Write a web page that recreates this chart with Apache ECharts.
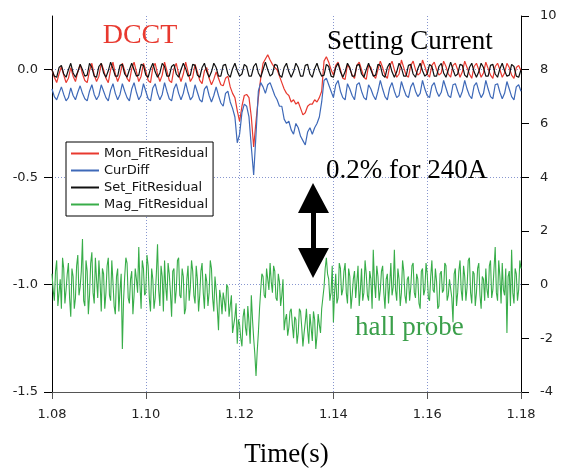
<!DOCTYPE html>
<html>
<head>
<meta charset="utf-8">
<script src="https://cdn.jsdelivr.net/npm/echarts@6/dist/echarts.min.js"></script>
<style>html,body{margin:0;padding:0;background:#fff}#c{width:562px;height:468px}</style>
</head>
<body>
<div id="c"></div>
<script>
// sampling: t = 1.08 + i*0.0005 (201 samples); hall probe also has half-step samples
const t0 = 1.08, dt = 0.0005;
const seriesNames = ['Mon_FitResidual', 'CurDiff', 'Set_FitResidual', 'Mag_FitResidual'];
const xTicks = [1.08, 1.10, 1.12, 1.14, 1.16, 1.18];
const leftTicks = [-1.5, -1.0, -0.5, 0.0];
const rightTicks = [-4, -2, 0, 2, 4, 6, 8, 10];

const monFit = [
 0.0,-0.035,-0.06,-0.02,0.015,-0.025,-0.06,-0.04,0.01,-0.03,
 -0.055,-0.01,0.025,-0.02,-0.05,-0.06,-0.005,0.03,-0.025,-0.055,
 -0.03,0.03,0.0,-0.04,-0.06,0.0,0.035,-0.02,-0.055,-0.025,
 0.03,-0.005,-0.04,-0.055,0.005,0.035,-0.01,-0.055,-0.03,0.03,
 -0.005,-0.05,-0.06,0.01,0.03,-0.02,-0.055,-0.025,0.035,-0.005,
 -0.05,-0.06,0.005,0.03,-0.02,-0.055,-0.02,0.035,-0.01,-0.055,
 -0.035,0.025,-0.01,-0.05,-0.065,-0.005,0.01,-0.04,-0.07,-0.045,
 -0.01,-0.04,-0.07,-0.075,-0.04,-0.03,-0.08,-0.11,-0.13,-0.19,
 -0.24,-0.17,-0.12,-0.115,-0.13,-0.22,-0.36,-0.24,-0.13,-0.04,
 0.03,0.05,0.07,0.045,0.025,0.01,0.0,-0.03,-0.06,-0.09,
 -0.11,-0.12,-0.15,-0.14,-0.16,-0.15,-0.18,-0.21,-0.2,-0.17,
 -0.16,-0.16,-0.14,-0.15,-0.13,-0.1,0.04,0.06,0.035,0.0,
 -0.025,0.02,0.035,0.0,-0.04,-0.045,0.025,0.005,-0.025,-0.04,
 0.02,0.035,0.0,-0.035,-0.045,0.02,0.01,-0.025,-0.04,0.0,
 0.04,0.01,-0.025,-0.04,0.015,0.04,0.0,-0.035,-0.02,0.045,
 0.01,-0.025,-0.035,0.02,0.04,0.0,-0.025,-0.015,0.045,0.015,
 -0.02,-0.035,0.02,0.035,0.0,-0.025,-0.015,0.04,0.015,-0.02,
 -0.035,0.02,0.03,0.0,-0.035,-0.01,0.04,0.01,-0.02,-0.04,
 0.015,0.03,0.0,-0.035,-0.015,0.035,0.005,-0.025,-0.04,0.015,
 0.03,0.0,-0.035,-0.015,0.03,0.01,-0.025,-0.04,0.01,0.02,
 -0.005
];

const curDiff = [
 -0.09,-0.125,-0.14,-0.11,-0.08,-0.115,-0.145,-0.13,-0.085,-0.12,
 -0.14,-0.105,-0.075,-0.11,-0.135,-0.145,-0.1,-0.07,-0.115,-0.14,
 -0.12,-0.07,-0.1,-0.13,-0.145,-0.095,-0.065,-0.11,-0.14,-0.115,
 -0.065,-0.1,-0.13,-0.145,-0.09,-0.06,-0.105,-0.14,-0.12,-0.065,
 -0.1,-0.135,-0.145,-0.085,-0.065,-0.11,-0.14,-0.115,-0.06,-0.1,
 -0.135,-0.145,-0.09,-0.065,-0.11,-0.14,-0.11,-0.06,-0.105,-0.14,
 -0.125,-0.07,-0.105,-0.14,-0.15,-0.09,-0.075,-0.12,-0.15,-0.12,
 -0.08,-0.12,-0.155,-0.17,-0.11,-0.1,-0.15,-0.18,-0.22,-0.34,
 -0.3,-0.2,-0.16,-0.17,-0.22,-0.36,-0.49,-0.3,-0.1,-0.06,
 -0.08,-0.11,-0.07,-0.06,-0.09,-0.12,-0.14,-0.17,-0.17,-0.23,
 -0.25,-0.24,-0.28,-0.3,-0.25,-0.27,-0.31,-0.33,-0.35,-0.29,
 -0.27,-0.3,-0.27,-0.25,-0.22,-0.15,-0.05,-0.04,-0.07,-0.1,
 -0.13,-0.07,-0.05,-0.1,-0.13,-0.14,-0.065,-0.09,-0.12,-0.14,
 -0.07,-0.06,-0.1,-0.13,-0.14,-0.07,-0.09,-0.12,-0.14,-0.1,
 -0.05,-0.09,-0.125,-0.14,-0.085,-0.06,-0.1,-0.13,-0.12,-0.055,
 -0.09,-0.12,-0.13,-0.08,-0.06,-0.1,-0.125,-0.11,-0.05,-0.09,
 -0.12,-0.13,-0.075,-0.06,-0.1,-0.125,-0.105,-0.05,-0.085,-0.12,
 -0.13,-0.07,-0.065,-0.1,-0.13,-0.1,-0.05,-0.09,-0.12,-0.135,
 -0.075,-0.06,-0.1,-0.13,-0.11,-0.05,-0.09,-0.125,-0.135,-0.07,
 -0.065,-0.105,-0.135,-0.11,-0.055,-0.09,-0.125,-0.14,-0.08,-0.07,
 -0.1
];

const setFit = [
 0.0,-0.03,-0.035,0.01,0.02,-0.02,-0.035,0.0,0.03,-0.015,
 -0.035,-0.01,0.025,0.0,-0.03,-0.025,0.03,0.01,-0.03,-0.035,
 0.015,0.03,-0.015,-0.035,-0.005,0.035,0.005,-0.03,-0.03,0.02,
 0.025,-0.02,-0.035,0.0,0.03,0.0,-0.03,-0.025,0.025,0.02,
 -0.025,-0.035,0.005,0.03,-0.01,-0.035,-0.015,0.03,0.015,-0.03,
 -0.03,0.015,0.025,-0.02,-0.035,0.0,0.03,0.005,-0.03,-0.025,
 0.025,0.02,-0.025,-0.035,0.01,0.03,-0.01,-0.035,-0.01,0.03,
 0.01,-0.03,-0.03,0.02,0.025,-0.02,-0.035,0.005,0.03,-0.005,
 -0.03,-0.02,0.025,0.015,-0.03,-0.03,0.015,0.03,-0.015,-0.035,
 0.0,0.035,0.0,-0.03,-0.02,0.025,0.02,-0.025,-0.035,0.01,
 0.03,-0.01,-0.035,-0.01,0.03,0.01,-0.03,-0.03,0.02,0.025,
 -0.02,-0.035,0.005,0.03,-0.005,-0.03,-0.025,0.025,0.015,-0.03,
 -0.035,0.01,0.03,-0.01,-0.035,-0.01,0.03,0.01,-0.03,-0.03,
 0.02,0.025,-0.02,-0.035,0.0,0.03,0.0,-0.03,-0.025,0.025,
 0.02,-0.025,-0.035,0.01,0.03,-0.01,-0.035,-0.01,0.03,0.01,
 -0.03,-0.03,0.02,0.025,-0.02,-0.035,0.005,0.03,-0.005,-0.03,
 -0.02,0.025,0.015,-0.03,-0.03,0.015,0.03,-0.015,-0.035,0.0,
 0.035,0.0,-0.03,-0.02,0.025,0.02,-0.025,-0.035,0.01,0.03,
 -0.01,-0.035,-0.01,0.03,0.01,-0.03,-0.03,0.02,0.025,-0.02,
 -0.035,0.005,0.03,-0.005,-0.03,-0.025,0.025,0.015,-0.03,-0.035,
 0.0
];

// hall probe, samples at t0 + i*dt
const magFit = [
 0.4,-0.6,0.9,-0.3,-0.9,0.6,-0.2,0.8,-1.2,0.3,
 -0.5,1.1,-0.1,1.7,-0.8,0.5,-0.4,1.2,-0.7,0.2,
 0.9,-1.0,0.4,-0.3,1.0,-0.6,0.1,-1.1,0.6,-0.2,
 -2.4,0.3,0.8,-0.7,0.5,-0.4,0.2,1.4,-0.9,0.6,
 -0.3,0.7,-1.0,0.2,-0.5,1.5,-0.8,0.3,0.9,-0.6,
 0.4,-1.2,0.6,-0.2,1.0,-0.5,0.3,-0.9,0.7,-0.1,
 0.5,-0.7,0.2,-0.4,0.8,-0.9,0.1,-0.3,0.6,-1.0,
 -0.2,-1.7,-0.5,-0.3,-1.0,-0.1,-0.8,-1.8,-1.2,-2.2,
 -1.5,-2.3,-0.9,-1.9,-1.4,-0.4,-2.0,-3.4,-1.8,-0.2,
 0.3,-0.5,0.2,0.8,-0.3,0.5,-0.6,0.1,-0.4,-1.7,
 -1.1,-1.6,-0.9,-2.0,-1.3,-1.8,-1.0,-2.3,-1.4,-1.7,
 -1.1,-2.1,-1.3,-1.9,-1.5,-0.9,-0.1,1.0,0.2,-0.3,
 -1.4,0.4,-0.5,0.6,-0.2,0.8,-0.7,0.3,-0.4,0.5,
 0.1,-0.8,0.6,-0.3,0.4,-0.6,0.2,1.3,-0.5,0.3,
 -0.2,0.7,-0.9,0.4,0.0,-0.4,1.3,-0.6,0.2,-0.3,
 0.5,-0.7,0.3,-0.1,0.8,-0.5,0.2,-0.9,0.6,-0.2,
 0.4,-0.6,0.9,-0.3,0.1,-0.8,0.5,-0.2,0.7,-0.4,
 0.2,-1.4,0.6,-0.3,0.9,-0.6,0.3,-0.1,1.0,-0.7,
 0.4,-0.3,0.8,-0.9,0.2,0.6,-0.5,0.9,-0.2,1.4,
 -0.6,0.3,0.8,-0.4,-1.8,0.5,1.3,-0.7,0.4,-0.2,
 0.6
];
// hall probe, samples at t0 + (i+0.5)*dt
const magFitMid = [
 -0.2,0.5,-0.8,0.2,1.0,-0.7,0.4,-0.5,0.6,-0.9,
 0.7,-0.4,0.5,-0.6,0.9,-1.1,0.8,-0.3,1.0,-0.5,
 0.1,0.6,-0.9,0.7,-0.4,0.9,-0.8,0.3,-1.0,0.4,
 -0.6,1.0,-0.5,0.2,-1.1,0.6,-0.3,0.0,0.9,-0.4,
 1.1,-0.5,0.6,-0.9,0.4,-0.2,0.7,-1.0,-0.1,0.8,
 -0.3,0.5,-0.7,0.9,-0.4,0.6,-1.1,0.2,-0.6,0.9,
 -0.4,0.7,-1.0,0.5,-0.3,0.4,-0.8,0.9,-0.5,0.3,
 -0.9,-0.2,-1.1,-0.6,0.0,-1.2,-0.4,-1.5,-0.7,-1.3,
 -2.0,-1.2,-1.6,-0.8,-2.2,-1.3,-2.6,-2.5,-0.9,0.4,
 -0.4,0.6,-0.2,0.1,0.7,-0.5,0.4,-0.8,0.2,-1.3,
 -1.9,-1.0,-1.5,-1.2,-2.2,-0.9,-1.6,-1.8,-0.9,-2.2,
 -1.6,-1.0,-2.4,-1.1,-1.8,-0.5,0.6,0.4,-0.6,0.7,
 -0.3,-0.7,0.8,-0.4,0.5,-0.3,0.6,-0.9,0.2,-0.5,
 0.7,-0.2,-0.6,0.9,-0.4,0.5,-0.9,0.1,0.7,-0.6,
 0.5,-0.3,0.2,-0.7,0.8,-0.1,-0.2,0.6,-0.8,0.9,
 -0.4,0.2,-0.6,0.7,-0.3,0.4,-0.7,0.5,-0.4,0.8,
 -0.5,0.3,-0.2,0.6,-0.9,0.4,-0.3,0.8,-0.6,0.2,
 -0.5,0.4,-0.8,0.5,-0.2,0.7,-0.6,0.9,-0.3,0.5,
 -0.8,0.6,-0.4,0.3,-0.6,-0.2,0.7,-0.5,0.6,-0.3,
 0.9,-0.7,-0.2,0.6,0.3,-0.8,-0.3,0.6,-0.6,0.9
];

const colors = ['#e8392f', '#3e69b8', '#111111', '#38ad49'];
const times = curDiff.map((_, i) => +(t0 + i * dt).toFixed(5));
const pair = arr => arr.map((v, i) => [times[i], v]);
const magPairs = [];
magFit.forEach((v, i) => {
  magPairs.push([times[i], v]);
  if (i < magFitMid.length) magPairs.push([+(t0 + (i + 0.5) * dt).toFixed(5), magFitMid[i]]);
});

const chart = echarts.init(document.getElementById('c'), null, {renderer: 'canvas'});
const gridDot = {type: [1, 2], color: '#8796cf', width: 1};
const tickFont = {fontFamily: 'DejaVu Sans', fontSize: 13, color: '#222'};
const serif = '"Liberation Serif", "Times New Roman", serif';

chart.setOption({
  animation: false,
  backgroundColor: '#fff',
  grid: {left: 52, right: 41, top: 16, bottom: 76, containLabel: false, outerBoundsMode: 'none'},
  legend: {
    data: seriesNames,
    orient: 'vertical', left: 66, top: 142,
    padding: [5, 5, 5, 5],
    icon: 'rect', itemWidth: 28, itemHeight: 2, itemGap: 4,
    backgroundColor: '#fff', borderColor: '#000', borderWidth: 1, borderRadius: 0,
    textStyle: {fontFamily: 'DejaVu Sans', fontSize: 13, color: '#111', lineHeight: 13},
    selectedMode: false
  },
  xAxis: {
    type: 'value', min: xTicks[0], max: xTicks[xTicks.length - 1], interval: 0.02,
    name: 'Time(s)', nameLocation: 'middle', nameGap: 49,
    nameTextStyle: {fontFamily: serif, fontSize: 27, color: '#000'},
    axisLine: {show: true, onZero: false, lineStyle: {color: '#555', width: 1}},
    axisTick: {show: true, length: 7, lineStyle: {color: '#555'}},
    axisLabel: Object.assign({margin: 16, formatter: v => v.toFixed(2)}, tickFont),
    splitLine: {show: true, showMinLine: false, showMaxLine: false, lineStyle: gridDot}
  },
  yAxis: [
    {
      type: 'value', position: 'left', min: leftTicks[0], max: 0.25, interval: 0.5,
      axisLine: {show: true, onZero: false, lineStyle: {color: '#000', width: 1}},
      axisTick: {show: true, length: 8, lineStyle: {color: '#000'}, customValues: leftTicks},
      axisLabel: Object.assign({margin: 14, customValues: leftTicks,
        formatter: v => (Math.abs(v) < 1e-9 ? 0 : v).toFixed(1)}, tickFont),
      splitLine: {show: true, showMinLine: false, showMaxLine: true, lineStyle: gridDot}
    },
    {
      type: 'value', position: 'right', min: rightTicks[0], max: rightTicks[rightTicks.length - 1], interval: 2,
      axisLine: {show: true, onZero: false, lineStyle: {color: '#000', width: 1}},
      axisTick: {show: true, length: 8, lineStyle: {color: '#000'}},
      axisLabel: Object.assign({margin: 19}, tickFont),
      splitLine: {show: false}
    }
  ],
  series: [
    {name: seriesNames[0], type: 'line', yAxisIndex: 0, data: pair(monFit), symbol: 'none',
     lineStyle: {color: colors[0], width: 1.2}, itemStyle: {color: colors[0]}, z: 2},
    {name: seriesNames[1], type: 'line', yAxisIndex: 0, data: pair(curDiff), symbol: 'none',
     lineStyle: {color: colors[1], width: 1.2}, itemStyle: {color: colors[1]}, z: 2},
    {name: seriesNames[2], type: 'line', yAxisIndex: 0, data: pair(setFit), symbol: 'none',
     lineStyle: {color: colors[2], width: 1.2}, itemStyle: {color: colors[2]}, z: 2},
    {name: seriesNames[3], type: 'line', yAxisIndex: 1, data: magPairs, symbol: 'none',
     lineStyle: {color: colors[3], width: 1.1}, itemStyle: {color: colors[3]}, z: 2}
  ],
  graphic: [
    {type: 'text', x: 140, y: 36, z: 10, style: {text: 'DCCT', font: '28px ' + serif, fill: '#e8392f', align: 'center', verticalAlign: 'middle'}},
    {type: 'text', x: 327, y: 42, z: 10, style: {text: 'Setting Current', font: '27px ' + serif, fill: '#000', align: 'left', verticalAlign: 'middle'}},
    {type: 'text', x: 326, y: 171, z: 10, style: {text: '0.2% for 240A', font: '27px ' + serif, fill: '#000', align: 'left', verticalAlign: 'middle'}},
    {type: 'text', x: 355, y: 328, z: 10, style: {text: 'hall probe', font: '27px ' + serif, fill: '#3a9f4a', align: 'left', verticalAlign: 'middle'}},
    {type: 'polygon', z: 10, shape: {points: [[313,183],[329,213],[316,213],[316,248],[329,248],[313,278],[298,248],[311,248],[311,213],[298,213]]}, style: {fill: '#000'}}
  ]
});
</script>
</body>
</html>
